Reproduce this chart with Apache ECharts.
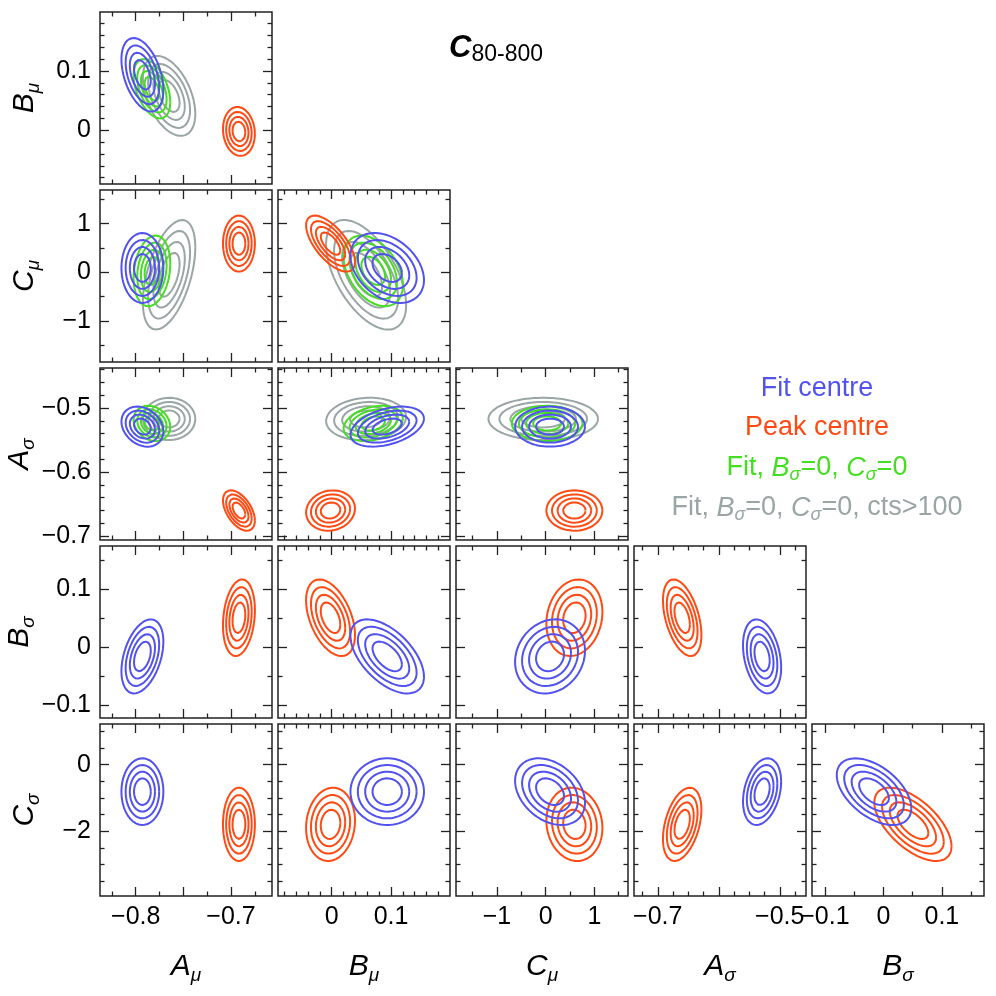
<!DOCTYPE html>
<html><head><meta charset="utf-8">
<script src="https://cdn.jsdelivr.net/npm/echarts@6/dist/echarts.min.js"></script>
<style>html,body{margin:0;padding:0;background:#fff}#c{width:996px;height:996px}</style>
</head><body><div id="c"></div>
<script>
// ---------------- DATA ----------------
// parameter order: A_mu, B_mu, C_mu, A_sigma, B_sigma, C_sigma
const nameParts = [['A','μ'],['B','μ'],['C','μ'],['A','σ'],['B','σ'],['C','σ']];

// axis extents (x used in columns 0..4, y used in rows for params 1..5)
const xMin = [-0.8375, -0.0906, -1.84, -0.739, -0.122];
const xMax = [-0.657, 0.1995, 1.69, -0.457, 0.172];
const yMin = [null, -0.0906, -1.84, -0.706, -0.122, -3.94];
const yMax = [null, 0.1995, 1.69, -0.4375, 0.174, 1.22];

// tick values
const majorTicksX = [[-0.8,-0.75,-0.7],[0,0.1],[-1,0,1],[-0.7,-0.6,-0.5],[-0.1,0,0.1]];
const minorTicksX = [[-0.825,-0.775,-0.725,-0.675],
  [-0.08,-0.06,-0.04,-0.02,0.02,0.04,0.06,0.08,0.12,0.14,0.16,0.18],
  [-1.5,-0.5,0.5,1.5],
  [-0.725,-0.675,-0.65,-0.625,-0.575,-0.55,-0.525,-0.475],
  [-0.05,0.05,0.15]];
const tickLabelsX = [[-0.8,-0.7],[0,0.1],[-1,0,1],[-0.7,-0.5],[-0.1,0,0.1]];
const majorTicksY = [null,[0,0.1],[-1,0,1],[-0.7,-0.6,-0.5],[-0.1,0,0.1],[-2,0]];
const minorTicksY = [null,
  [-0.08,-0.06,-0.04,-0.02,0.02,0.04,0.06,0.08,0.12,0.14,0.16,0.18],
  [-1.5,-0.5,0.5,1.5],
  [-0.68,-0.66,-0.64,-0.62,-0.58,-0.56,-0.54,-0.52,-0.48,-0.46,-0.44],
  [-0.05,0.05,0.15],
  [-3.5,-3,-2.5,-1.5,-1,-0.5,0.5,1]];
const tickLabelsY = [null,[0,0.1],[-1,0,1],[-0.7,-0.6,-0.5],[-0.1,0,0.1],[-2,0]];

// posterior summaries
const fitMean  = [-0.793, 0.0936, 0.09, -0.529, -0.016, -0.81];
const fitSigma = [0.0088, 0.0248, 0.287, 0.0125, 0.0255, 0.40];
const peakMean  = [-0.6917, -0.002, 0.59, -0.66, 0.0505, -1.79];
const peakSigma = [0.0067, 0.0165, 0.23, 0.0126, 0.0264, 0.44];
const fixMean  = [-0.783, 0.070, 0.03, -0.524];
const fixSigma = [0.0077, 0.020, 0.29, 0.011];
const ctsMean  = [-0.765, 0.058, -0.05, -0.517];
const ctsSigma = [0.011, 0.027, 0.45, 0.0132];

// panel pairs [xParam, yParam] and correlations per pair
const pairs = [[0,1],[0,2],[1,2],[0,3],[1,3],[2,3],[0,4],[1,4],[2,4],[3,4],[0,5],[1,5],[2,5],[3,5],[4,5]];
const fitCorr  = [-0.42, 0.0, -0.35, -0.25, 0.4, 0.0, 0.4, -0.55, 0.15, -0.3, 0.0, 0.0, -0.33, 0.3, -0.5];
const peakCorr = [-0.1, 0.0, -0.65, -0.5, 0.1, 0.0, 0.2, -0.45, 0.15, -0.45, 0.0, 0.1, -0.1, 0.4, -0.6];
const fixCorr  = [-0.45, 0.2, -0.4, -0.2, 0.3, 0.0];
const ctsCorr  = [-0.45, 0.5, -0.55, 0.0, 0.1, 0.0];

const contourLevels = [1.0, 1.5, 2.0, 2.5];

const seriesNames = ['Fit, Bσ=0, Cσ=0, cts>100', 'Fit, Bσ=0, Cσ=0', 'Peak centre', 'Fit centre'];
const legendRich = ['Fit, {i|B}{s|σ}=0, {i|C}{s|σ}=0, cts>100', 'Fit, {i|B}{s|σ}=0, {i|C}{s|σ}=0', 'Peak centre', 'Fit centre'];

// ---------------- STYLE ----------------
const colors = ['#9aa5a5', '#44dd22', '#ff4a14', '#5252ee'];
const FONT = '"Liberation Sans", Arial, Helvetica, sans-serif';
const L0 = 100, T0 = 12, P = 178, S = 172;
const TICK_MAJ = 9, TICK_MIN = 4.5;

const sets = [
  {mean: ctsMean, sigma: ctsSigma, corr: ctsCorr},
  {mean: fixMean, sigma: fixSigma, corr: fixCorr},
  {mean: peakMean, sigma: peakSigma, corr: peakCorr},
  {mean: fitMean, sigma: fitSigma, corr: fitCorr}
];

function fmt(v) {
  const a = Math.abs(v);
  const s = String(Math.round(a * 1000) / 1000);
  return (v < 0 ? '\u2212' : '') + s;
}

function ring(mx, my, sx, sy, rho, r) {
  const pts = [];
  const k = Math.sqrt(1 - rho * rho);
  const N = 90;
  for (let t = 0; t <= N; t++) {
    const a = t / N * 2 * Math.PI;
    pts.push([mx + r * sx * Math.cos(a), my + r * sy * (rho * Math.cos(a) + k * Math.sin(a))]);
  }
  return pts;
}

const nameRich = {
  i: {fontStyle: 'italic', fontSize: 30, fontFamily: FONT, color: '#000', lineHeight: 36},
  s: {fontStyle: 'italic', fontSize: 19, fontFamily: FONT, color: '#000', lineHeight: 19, verticalAlign: 'bottom'}
};

function makeAxis(dim, g, pos, min, max, ticks, isMajor, labels, nm) {
  const ax = {
    type: 'value', gridIndex: g, position: pos, min: min, max: max, scale: true,
    axisLine: {show: false, onZero: false}, splitLine: {show: false},
    axisTick: {show: true, inside: true, length: isMajor ? TICK_MAJ : TICK_MIN,
      customValues: ticks, lineStyle: {color: '#222', width: 1.3}},
    axisLabel: labels ? {show: true, customValues: labels, formatter: fmt, fontFamily: FONT,
      fontSize: 25, color: '#000', margin: 9} : {show: false},
    axisPointer: {show: false}, silent: true
  };
  if (nm) {
    ax.name = '{i|' + nm[0] + '}{s|' + nm[1] + '}';
    ax.nameLocation = 'middle';
    ax.nameGap = dim === 'x' ? 53 : 57;
    ax.nameTextStyle = {rich: nameRich, fontFamily: FONT};
  }
  return ax;
}

const grids = [], xAxes = [], yAxes = [], series = [];

pairs.forEach(function (pr, pi) {
  const cx = pr[0], py = pr[1];
  const row = py - 1, col = cx;
  const g = grids.length;
  grids.push({left: L0 + col * P, top: T0 + row * P, width: S, height: S, show: true,
    borderColor: '#222', borderWidth: 1.5, backgroundColor: 'rgba(0,0,0,0)', containLabel: false});
  const xi = xAxes.length, yi = yAxes.length;
  const isBottom = row === 4, isLeft = col === 0;
  ['bottom', 'top'].forEach(function (pos) {
    [true, false].forEach(function (maj) {
      const lab = (pos === 'bottom' && maj && isBottom);
      xAxes.push(makeAxis('x', g, pos, xMin[cx], xMax[cx], maj ? majorTicksX[cx] : minorTicksX[cx], maj,
        lab ? tickLabelsX[cx] : null, lab ? nameParts[cx] : null));
    });
  });
  ['left', 'right'].forEach(function (pos) {
    [true, false].forEach(function (maj) {
      const lab = (pos === 'left' && maj && isLeft);
      yAxes.push(makeAxis('y', g, pos, yMin[py], yMax[py], maj ? majorTicksY[py] : minorTicksY[py], maj,
        lab ? tickLabelsY[py] : null, lab ? nameParts[py] : null));
    });
  });
  sets.forEach(function (st, si) {
    if (st.mean[cx] == null || st.mean[py] == null || st.corr[pi] == null) return;
    contourLevels.forEach(function (r) {
      series.push({
        type: 'line', name: seriesNames[si], xAxisIndex: xi, yAxisIndex: yi,
        data: ring(st.mean[cx], st.mean[py], st.sigma[cx], st.sigma[py], st.corr[pi], r),
        showSymbol: false, symbol: 'none', smooth: false, silent: true, clip: true,
        lineStyle: {color: colors[si], width: 2}, z: 2 + si
      });
    });
  });
});

const legendY = [508, 468, 428, 389];
const subRich = function (c) {
  return {
    i: {fontStyle: 'italic', fontSize: 27, fontFamily: FONT, fill: c, lineHeight: 32},
    s: {fontStyle: 'italic', fontSize: 18, fontFamily: FONT, fill: c, lineHeight: 18, verticalAlign: 'bottom'},
    n: {fontSize: 27, fontFamily: FONT, fill: c, lineHeight: 32}
  };
};
const graphic = [];
legendRich.forEach(function (t, i) {
  graphic.push({type: 'text', x: 817, y: legendY[i], silent: true,
    style: {text: t.replace(/(^|\})([^{}]+)(?=\{|$)/g, function (m, a, b) { return a + '{n|' + b + '}'; }),
      align: 'center', verticalAlign: 'middle', fill: colors[i], rich: subRich(colors[i])}});
});
graphic.push({type: 'text', x: 449, y: 48, silent: true,
  style: {text: '{c|C}{s|80-800}', align: 'left', verticalAlign: 'middle',
    rich: {c: {fontSize: 31, fontStyle: 'italic', fontWeight: 'bold', fontFamily: FONT, fill: '#000', lineHeight: 36},
           s: {fontSize: 23, fontFamily: FONT, fill: '#000', lineHeight: 24, verticalAlign: 'bottom'}}}});

const chart = echarts.init(document.getElementById('c'), null, {renderer: 'canvas', width: 996, height: 996});
chart.setOption({
  animation: false, backgroundColor: '#fff',
  grid: grids, xAxis: xAxes, yAxis: yAxes, series: series, graphic: graphic
});
</script></body></html>
